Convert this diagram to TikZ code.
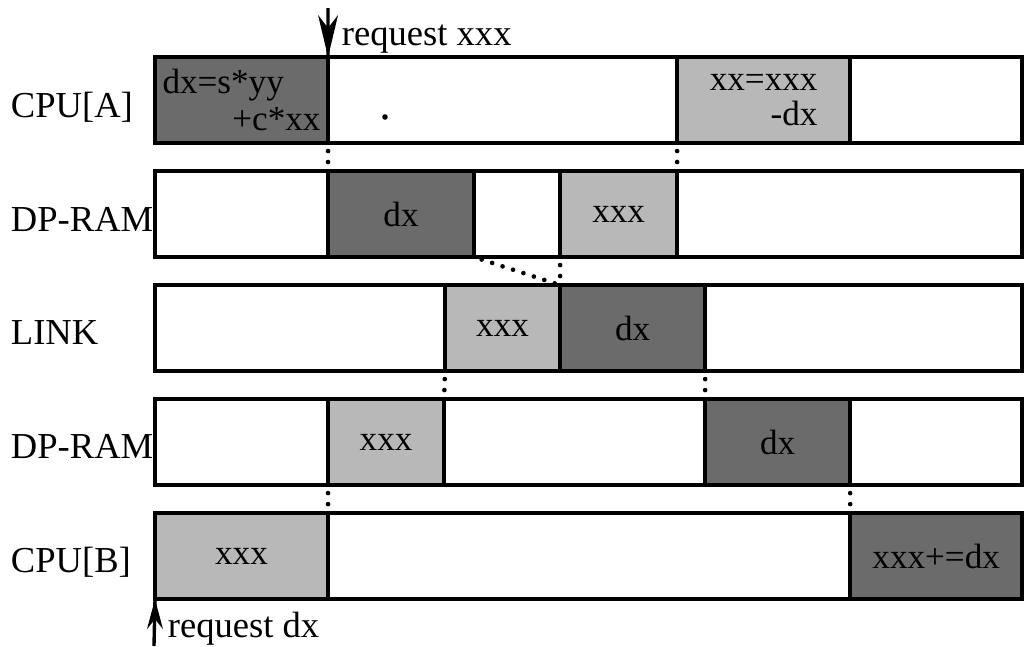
\documentclass[tikz,border=0pt]{standalone}
\usepackage{fontspec}
\setmainfont{Liberation Serif}
\usetikzlibrary{arrows.meta, positioning}

\begin{document}
\begin{tikzpicture}[
  x=0.025cm, y=-0.025cm,
  font=\fontsize{25}{22}\selectfont,
  cell/.style={
    draw,
    line width=2.6pt,
    inner sep=0pt,
    outer sep=0pt,
    minimum height=2.15cm,
    align=center
  },
  dark/.style={cell, fill=black!58},
  light/.style={cell, fill=black!28},
  rowlabel/.style={anchor=base west, font=\fontsize{26}{28}\selectfont},
  link/.style={line width=3.3pt, line cap=round, dash pattern=on 0pt off 7.8pt, dash phase=2.1pt},
  request/.style={line width=2.4pt},
  head/.style={fill=black}
]

\useasboundingbox (0,0) rectangle (1028,646);

% --- CPU[A] ---
\node[dark, anchor=north west, minimum width=4.325cm, text width=3.95cm, align=left,
  font=\fontsize{25}{26}\selectfont] (a1) at (155,57)
{dx=s*yy\\\mbox{}\hfill+c*xx};
\node[cell, right=0pt of a1, minimum width=8.725cm] (a2) {};
\node[light, right=0pt of a2, minimum width=4.325cm, align=right,
  font=\fontsize{25}{25}\selectfont] (a3) {xx=xxx\\-dx};
\node[cell, right=0pt of a3, minimum width=4.3cm] (a4) {};
\node[circle, fill, inner sep=0pt, minimum size=0.14cm] (spot) at (385,117) {};

% --- DP-RAM (A side) ---
\node[cell, below=7mm of a1, minimum width=4.325cm] (b1) {};
\node[dark, right=0pt of b1, minimum width=3.65cm] (b2) {dx};
\node[cell, right=0pt of b2, minimum width=2.15cm] (b3) {};
\node[light, right=0pt of b3, minimum width=2.925cm] (b4) {xxx};
\node[cell, right=0pt of b4, minimum width=8.625cm] (b5) {};

% --- LINK ---
\node[cell, below=7mm of b1.south west, anchor=north west, minimum width=7.25cm] (c1) {};
\node[light, right=0pt of c1, minimum width=2.875cm] (c2) {xxx};
\node[dark, right=0pt of c2, minimum width=3.625cm] (c3) {dx};
\node[cell, right=0pt of c3, minimum width=7.925cm] (c4) {};

% --- DP-RAM (B side) ---
\node[cell, below=7mm of c1.south west, anchor=north west, minimum width=4.325cm] (d1) {};
\node[light, right=0pt of d1, minimum width=2.9cm] (d2) {xxx};
\node[cell, right=0pt of d2, minimum width=6.525cm] (d3) {};
\node[dark, right=0pt of d3, minimum width=3.625cm] (d4) {dx};
\node[cell, right=0pt of d4, minimum width=4.3cm] (d5) {};

% --- CPU[B] ---
\node[light, below=7mm of d1, minimum width=4.325cm] (e1) {xxx};
\node[cell, right=0pt of e1, minimum width=13.05cm] (e2) {};
\node[dark, right=0pt of e2, minimum width=4.3cm] (e3) {xxx+=dx};

% Row labels
\node[rowlabel] (lblA) at (6,117) {CPU[A]};
\node[rowlabel] (lblram1) at (6,231) {DP-RAM};
\node[rowlabel] (lbllink) at (6,344) {LINK};
\node[rowlabel] (lblram2) at (6,458) {DP-RAM};
\node[rowlabel] (lblB) at (6,572) {CPU[B]};

% --- dotted hand-overs ---
\draw[link] (a1.south east) -- (b1.north east);
\draw[link] (a2.south east) -- (b4.north east);
\draw[link] (b2.south east) -- (c2.north east);
\draw[link] (b3.south east) -- (c2.north east);
\draw[link] (c1.south east) -- (d2.north east);
\draw[link] (c3.south east) -- (d3.north east);
\draw[link] (d1.south east) -- (e1.north east);
\draw[link] (d4.south east) -- (e2.north east);

% --- requests ---
\coordinate (xxxtop) at (328,8);
\draw[request] (xxxtop) -- (a1.north east);
\fill[head] (a1.north east) -- ++(-10,-42) -- ++(10,13) -- ++(10,-13) -- cycle;
\node[anchor=base west, font=\fontsize{26}{28}\selectfont] (reqxxx) at (337,45) {request xxx};

\coordinate (dxbottom) at (154,646);
\draw[request] (dxbottom) -- (e1.south west);
\fill[head] (e1.south west) -- ++(-8,30) -- ++(8,-10) -- ++(8,10) -- cycle;
\node[anchor=base west, font=\fontsize{26}{28}\selectfont] (reqdx) at (163,637) {request dx};

\end{tikzpicture}
\end{document}
